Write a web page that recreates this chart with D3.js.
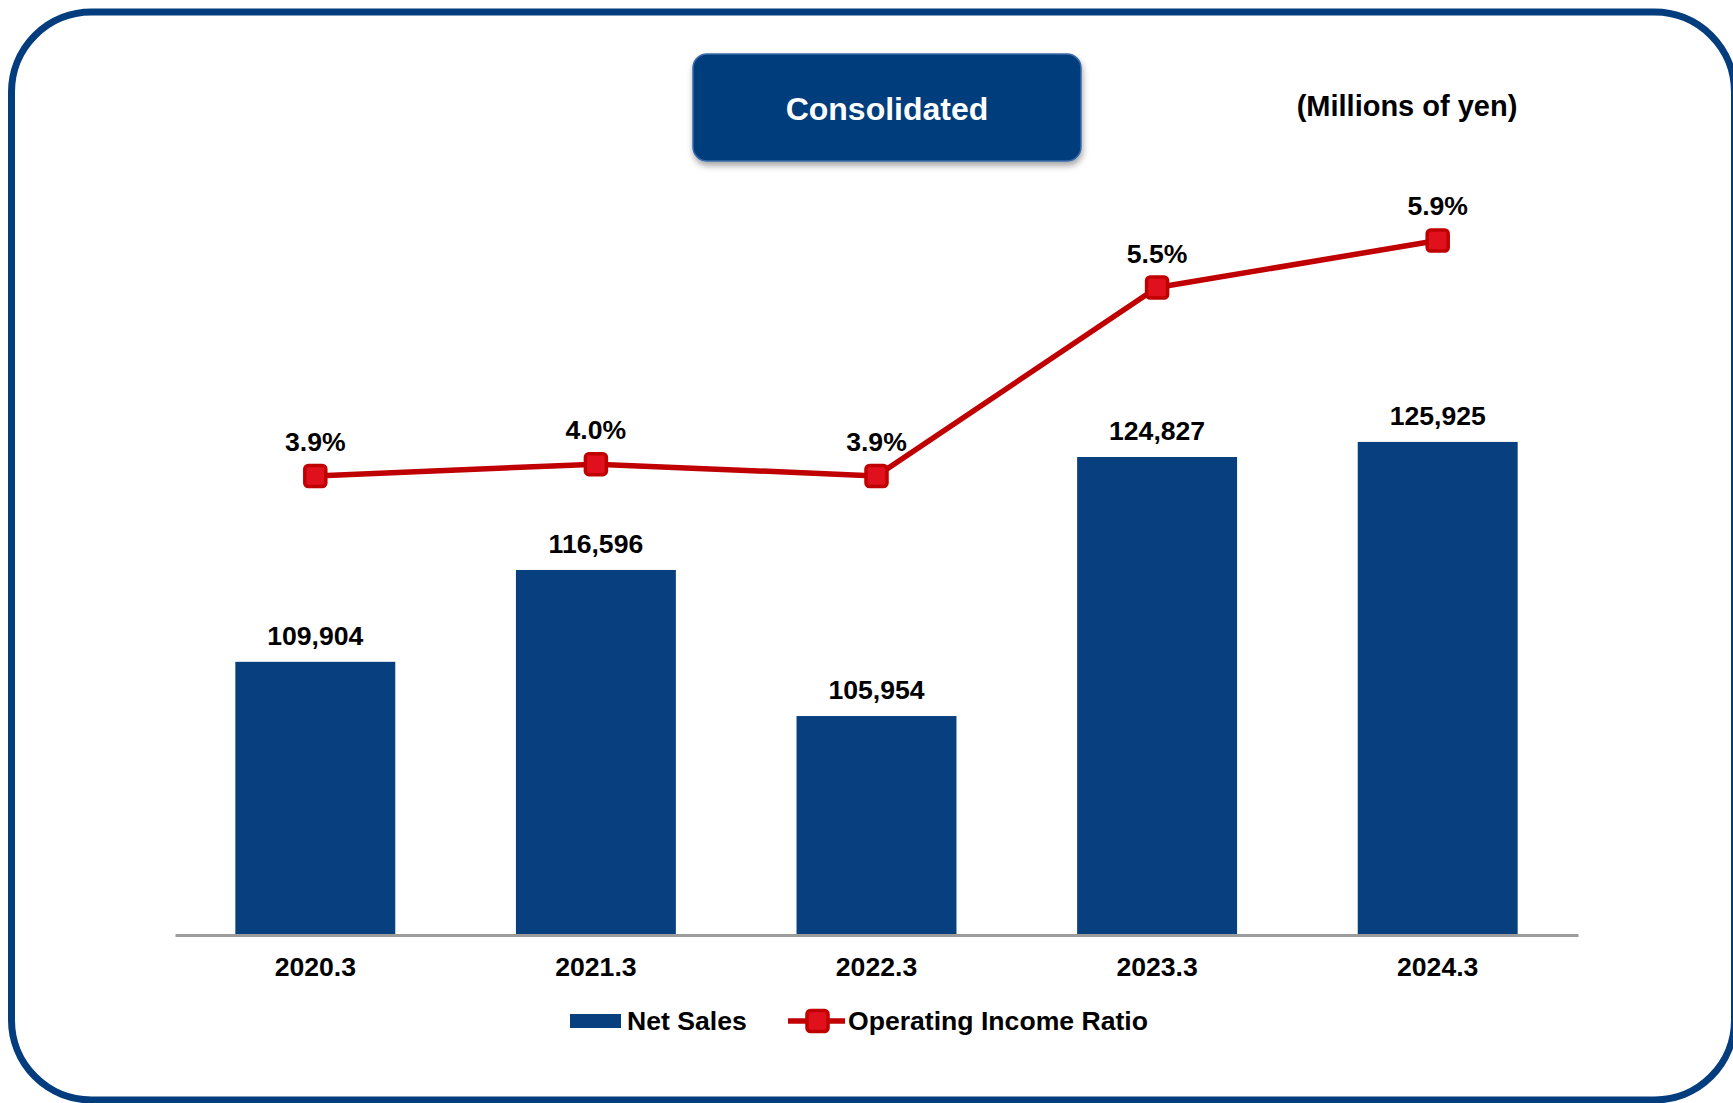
<!DOCTYPE html>
<html>
<head>
<meta charset="utf-8">
<script src="https://cdn.jsdelivr.net/npm/d3@7"></script>
<style>
  html, body { margin: 0; padding: 0; background: #ffffff; }
  svg { display: block; }
  text { font-family: "Liberation Sans", Arial, sans-serif; font-weight: bold; }
</style>
</head>
<body>
<svg id="chart" width="1733" height="1103"></svg>
<script>
// Fiscal years (ending March)
const categories = ["2020.3", "2021.3", "2022.3", "2023.3", "2024.3"];
// Net sales, millions of yen
const netSales = [109904, 116596, 105954, 124827, 125925];
// Operating income ratio, %
const operatingIncomeRatio = [3.9, 4.0, 3.9, 5.5, 5.9];

const W = 1733, H = 1103;
const BLUE = "#08407f";
const FRAME = "#043d7e";
const RED = "#c00000";
const RED_FILL = "#e0101c";
const FS = 26.6;

const svg = d3.select("#chart");

const defs = svg.append("defs");
const shadow = defs.append("filter").attr("id", "boxShadow")
  .attr("x", "-10%").attr("y", "-10%").attr("width", "130%").attr("height", "140%");
shadow.append("feDropShadow")
  .attr("dx", 1).attr("dy", 4).attr("stdDeviation", 3)
  .attr("flood-color", "#000").attr("flood-opacity", 0.35);

// Rounded outer frame
svg.append("rect")
  .attr("x", 11.5).attr("y", 12)
  .attr("width", 1723).attr("height", 1088)
  .attr("rx", 80).attr("ry", 80)
  .attr("fill", "#ffffff")
  .attr("stroke", FRAME).attr("stroke-width", 7);

// Heading badge
svg.append("rect")
  .attr("x", 693).attr("y", 54)
  .attr("width", 388).attr("height", 107)
  .attr("rx", 14).attr("ry", 14)
  .attr("fill", "#033d7d")
  .attr("stroke", "#3a6aa8").attr("stroke-width", 1.5)
  .attr("filter", "url(#boxShadow)");
svg.append("text")
  .attr("x", 887).attr("y", 120)
  .attr("text-anchor", "middle")
  .attr("font-size", 32)
  .attr("fill", "#ffffff")
  .text("Consolidated");

svg.append("text")
  .attr("x", 1407).attr("y", 116)
  .attr("text-anchor", "middle")
  .attr("font-size", 29)
  .attr("fill", "#000")
  .text("(Millions of yen)");

// Scales
const x = d3.scaleBand()
  .domain(categories)
  .range([175, 1578])
  .paddingInner(0.43)
  .paddingOuter(0.215);

const yBar = d3.scaleLinear().domain([90000, 150000]).range([935, 111.5]);
const yPct = d3.scaleLinear().domain([0, 7]).range([935, 111]);

const fmtNum = d3.format(",");
const fmtPct = v => d3.format(".1f")(v) + "%";

// Bars
const bars = categories.map((c, i) => ({ cat: c, value: netSales[i] }));
svg.append("g").selectAll("rect")
  .data(bars)
  .join("rect")
  .attr("x", d => x(d.cat))
  .attr("y", d => yBar(d.value))
  .attr("width", x.bandwidth())
  .attr("height", d => yBar.range()[0] - yBar(d.value))
  .attr("fill", BLUE);

svg.append("g").selectAll("text")
  .data(bars)
  .join("text")
  .attr("x", d => x(d.cat) + x.bandwidth() / 2)
  .attr("y", d => yBar(d.value) - 17)
  .attr("text-anchor", "middle")
  .attr("font-size", FS)
  .attr("fill", "#000")
  .text(d => fmtNum(d.value));

// X axis
const xAxis = svg.append("g")
  .attr("transform", "translate(0,935)")
  .call(d3.axisBottom(x).tickSize(0).tickSizeOuter(0).tickPadding(22));
xAxis.select(".domain").attr("stroke", "#9c9c9c").attr("stroke-width", 3);
xAxis.selectAll(".tick text")
  .attr("font-size", FS)
  .attr("font-family", "'Liberation Sans', Arial, sans-serif")
  .attr("font-weight", "bold")
  .attr("fill", "#000");

// Ratio line
const pts = categories.map((c, i) => ({ cat: c, value: operatingIncomeRatio[i] }));
const cx = d => x(d.cat) + x.bandwidth() / 2;
const line = d3.line().x(cx).y(d => yPct(d.value));

svg.append("path")
  .datum(pts)
  .attr("d", line)
  .attr("fill", "none")
  .attr("stroke", RED)
  .attr("stroke-width", 5.5)
  .attr("stroke-linejoin", "round");

function marker(sel, size) {
  sel.attr("width", size).attr("height", size)
    .attr("rx", 3.5).attr("ry", 3.5)
    .attr("fill", RED_FILL)
    .attr("stroke", RED).attr("stroke-width", 3.5);
}

svg.append("g").selectAll("rect")
  .data(pts)
  .join("rect")
  .attr("x", d => cx(d) - 10.5)
  .attr("y", d => yPct(d.value) - 10.5)
  .call(marker, 21);

svg.append("g").selectAll("text")
  .data(pts)
  .join("text")
  .attr("x", cx)
  .attr("y", d => yPct(d.value) - 25)
  .attr("text-anchor", "middle")
  .attr("font-size", FS)
  .attr("fill", "#000")
  .text(d => fmtPct(d.value));

// Legend
const legend = svg.append("g");
legend.append("rect")
  .attr("x", 570).attr("y", 1014)
  .attr("width", 51).attr("height", 14)
  .attr("fill", BLUE);
legend.append("text")
  .attr("x", 627).attr("y", 1030)
  .attr("font-size", FS).attr("fill", "#000")
  .text("Net Sales");
legend.append("line")
  .attr("x1", 788).attr("x2", 845)
  .attr("y1", 1021).attr("y2", 1021)
  .attr("stroke", RED).attr("stroke-width", 5.5);
legend.append("rect")
  .attr("x", 817.5 - 10.5).attr("y", 1021 - 10.5)
  .call(marker, 21);
legend.append("text")
  .attr("x", 848).attr("y", 1030)
  .attr("font-size", FS).attr("fill", "#000")
  .text("Operating Income Ratio");
</script>
</body>
</html>
